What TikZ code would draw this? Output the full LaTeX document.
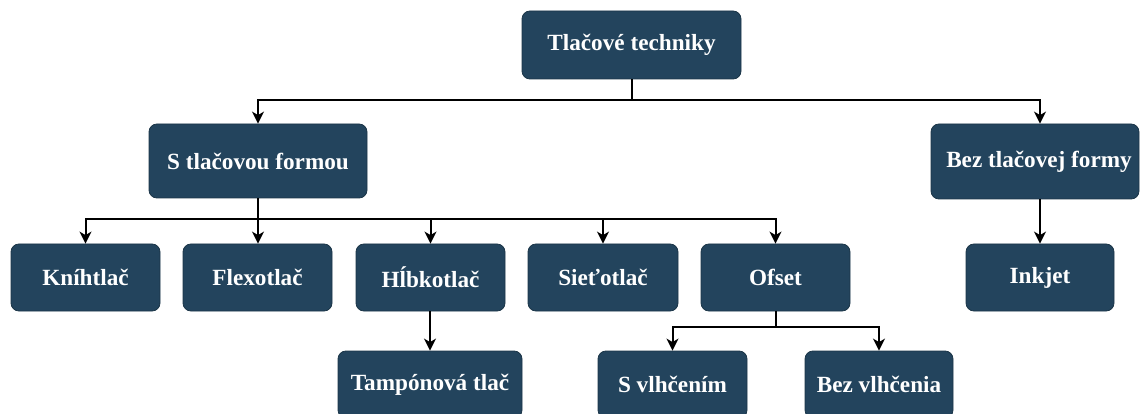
\documentclass[tikz,border=0pt]{standalone}
\usepackage{fontspec}
\setmainfont{Liberation Serif}
\usetikzlibrary{arrows.meta}
\definecolor{boxfill}{HTML}{23445D}
\definecolor{boxedge}{HTML}{1B3547}
\tikzset{
  box/.style={draw=boxedge, line width=0.8pt, fill=boxfill, rounded corners=8pt,
    text=white, font=\fontsize{23.2}{27}\selectfont\bfseries, inner sep=0pt},
  arr/.style={line width=2pt, -{Stealth[length=12pt,width=12pt,inset=3.5pt]}},
  ln/.style={line width=2pt}
}
\begin{document}
\begin{tikzpicture}[x=1pt,y=-1pt]
\useasboundingbox (0,0) rectangle (1141,414);
% nodes
\node[box, minimum width=219pt, minimum height=68pt] (top) at (631.5,45) {Tlačové techniky};
\node[box, minimum width=218pt, minimum height=74pt] (sform) at (258,161) {S tlačovou formou};
\node[box, minimum width=208pt, minimum height=75pt] (bform) at (1035,161.5) {\hspace*{8pt}Bez tlačovej formy};
\node[box, minimum width=149pt, minimum height=67pt] (knih) at (85.5,277.5) {Kníhtlač};
\node[box, minimum width=149pt, minimum height=67pt] (flex) at (257.5,277.5) {Flexotlač};
\node[box, minimum width=149pt, minimum height=67pt] (hlbk) at (430.5,277.5) {Hĺbkotlač};
\node[box, minimum width=150pt, minimum height=67pt] (siet) at (603,277.5) {Sieťotlač};
\node[box, minimum width=149pt, minimum height=67pt] (ofset) at (775.5,277.5) {Ofset};
\node[box, minimum width=148pt, minimum height=67pt] (inkjet) at (1040,277.5) {Inkjet};
\node[box, minimum width=184pt, minimum height=67pt] (tamp) at (430,384.5) {Tampónová tlač};
\node[box, minimum width=149pt, minimum height=67pt] (svlh) at (672.5,384.5) {S vlhčením};
\node[box, minimum width=148pt, minimum height=67pt] (bvlh) at (879,384.5) {Bez vlhčenia};
% bus coordinates
\coordinate (b1) at (631.5,100);
\coordinate (b2) at (258,219);
\coordinate (b3) at (775.5,327);
% connectors level 1
\draw[ln] (top.south) -- (b1);
\draw[arr] (b1) -| (sform.north);
\draw[arr] (b1) -| (inkjet.north |- bform.north);
% level 2
\draw[ln] (sform.south) -- (b2);
\draw[arr] (b2) -| (knih.north);
\draw[arr] (b2) -- (flex.north -| b2);
\draw[arr] (b2) -| (hlbk.north);
\draw[arr] (b2) -| (siet.north);
\draw[arr] (b2) -| (ofset.north);
\draw[arr] (bform.south -| inkjet.north) -- (inkjet.north);
% level 3
\draw[arr] (hlbk.south -| tamp.north) -- (tamp.north);
\draw[ln] (ofset.south) -- (b3);
\draw[arr] (b3) -| (svlh.north);
\draw[arr] (b3) -| (bvlh.north);
\end{tikzpicture}
\end{document}
